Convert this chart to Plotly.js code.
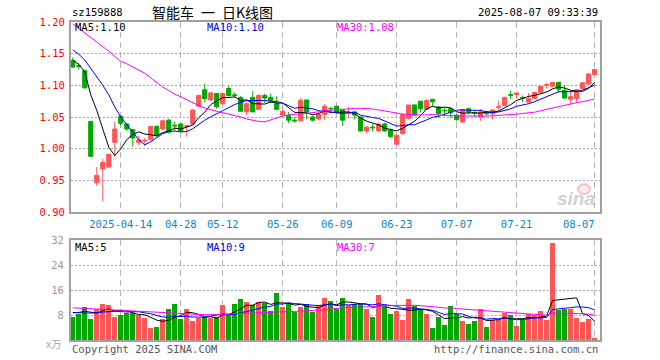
<!DOCTYPE html>
<html>
<head>
<meta charset="utf-8">
<script src="https://cdn.plot.ly/plotly-3.0.1.min.js"></script>
<style>html,body{margin:0;padding:0;background:#fff}#chart{width:660px;height:360px}</style>
</head>
<body>
<div id="chart"></div>
<script>
const dates = [
"2025-04-01","2025-04-02","2025-04-03","2025-04-07","2025-04-08","2025-04-09","2025-04-10","2025-04-11",
"2025-04-14","2025-04-15","2025-04-16","2025-04-17","2025-04-18","2025-04-21","2025-04-22","2025-04-23","2025-04-24","2025-04-25",
"2025-04-28","2025-04-29","2025-04-30","2025-05-06","2025-05-07","2025-05-08","2025-05-09",
"2025-05-12","2025-05-13","2025-05-14","2025-05-15","2025-05-16","2025-05-19","2025-05-20","2025-05-21","2025-05-22","2025-05-23",
"2025-05-26","2025-05-27","2025-05-28","2025-05-29","2025-05-30","2025-06-03","2025-06-04","2025-06-05","2025-06-06",
"2025-06-09","2025-06-10","2025-06-11","2025-06-12","2025-06-13","2025-06-16","2025-06-17","2025-06-18","2025-06-19","2025-06-20",
"2025-06-23","2025-06-24","2025-06-25","2025-06-26","2025-06-27","2025-06-30","2025-07-01","2025-07-02","2025-07-03","2025-07-04",
"2025-07-07","2025-07-08","2025-07-09","2025-07-10","2025-07-11","2025-07-14","2025-07-15","2025-07-16","2025-07-17","2025-07-18",
"2025-07-21","2025-07-22","2025-07-23","2025-07-24","2025-07-25","2025-07-28","2025-07-29","2025-07-30","2025-07-31","2025-08-01",
"2025-08-04","2025-08-05","2025-08-06","2025-08-07"];

const openP = [1.139,1.131,1.123,1.043,0.946,0.968,0.971,1.010,
1.051,1.039,1.030,1.010,1.012,1.014,1.035,1.031,1.045,1.037,
1.039,1.035,1.039,1.067,1.093,1.077,1.087,
1.071,1.095,1.085,1.081,1.058,1.081,1.062,1.084,1.081,1.071,
1.053,1.052,1.045,1.044,1.077,1.050,1.047,1.054,1.0635,
1.067,1.061,1.056,1.058,1.050,1.028,1.034,1.028,1.039,1.029,
1.007,1.024,1.048,1.069,1.075,1.062,1.078,1.066,1.0605,1.063,
1.053,1.042,1.063,1.057,1.050,1.058,1.055,1.065,1.068,1.085,
1.0855,1.0805,1.0735,1.079,1.089,1.1005,1.0985,1.1047,1.092,1.078,
1.079,1.095,1.102,1.117];
const highP = [1.144,1.135,1.125,1.044,0.971,0.984,0.992,1.043,
1.053,1.040,1.031,1.020,1.017,1.036,1.037,1.046,1.047,1.043,
1.040,1.038,1.062,1.085,1.103,1.089,1.088,
1.088,1.099,1.089,1.083,1.075,1.091,1.086,1.087,1.087,1.083,
1.066,1.058,1.050,1.080,1.077,1.052,1.057,1.071,1.066,
1.068,1.061,1.066,1.059,1.050,1.036,1.039,1.041,1.041,1.032,
1.023,1.055,1.069,1.070,1.075,1.078,1.078,1.067,1.065,1.065,
1.054,1.062,1.065,1.061,1.063,1.059,1.062,1.076,1.082,1.091,
1.089,1.084,1.088,1.089,1.099,1.104,1.105,1.105,1.0995,1.091,
1.094,1.104,1.119,1.126];
const lowP = [1.127,1.125,1.095,0.987,0.941,0.917,0.970,0.987,
1.036,1.028,1.003,1.005,1.004,1.013,1.019,1.029,1.024,1.028,
1.027,1.019,1.038,1.066,1.073,1.075,1.063,
1.069,1.082,1.080,1.058,1.053,1.058,1.061,1.072,1.072,1.061,
1.052,1.040,1.041,1.043,1.046,1.043,1.045,1.045,1.057,
1.058,1.036,1.048,1.046,1.027,1.024,1.027,1.026,1.027,1.017,
1.006,1.022,1.046,1.052,1.057,1.061,1.067,1.049,1.053,1.048,
1.044,1.041,1.054,1.050,1.044,1.052,1.046,1.059,1.067,1.078,
1.079,1.0735,1.0725,1.078,1.088,1.095,1.098,1.088,1.079,1.070,
1.0725,1.094,1.101,1.116];
const closeP = [1.129,1.130,1.096,0.988,0.958,0.978,0.991,1.031,
1.040,1.031,1.017,1.014,1.013,1.035,1.021,1.044,1.026,1.036,
1.028,1.036,1.061,1.084,1.079,1.088,1.066,
1.087,1.084,1.084,1.059,1.071,1.058,1.084,1.080,1.076,1.062,
1.059,1.045,1.044,1.076,1.058,1.045,1.054,1.067,1.063,
1.058,1.045,1.057,1.053,1.028,1.034,1.033,1.039,1.028,1.019,
1.021,1.054,1.069,1.053,1.063,1.076,1.074,1.055,1.060,1.057,
1.046,1.062,1.058,1.0565,1.058,1.055,1.061,1.066,1.081,1.0845,
1.088,1.080,1.079,1.089,1.0985,1.101,1.1047,1.094,1.080,1.082,
1.093,1.104,1.118,1.125];
const volume = [7.4,8.2,10.7,6.6,10.0,11.4,11.1,7.4,
7.9,8.75,8.75,7.9,7.05,3.9,4.2,6.8,9.8,11.4,
6.6,9.8,6.0,7.05,7.4,7.05,7.4,
11.1,7.9,11.4,13.0,12.3,11.1,12.3,12.0,9.2,15.1,
10.5,12.0,9.0,10.7,11.6,9.0,11.2,13.4,12.6,
10.0,13.6,11.2,11.6,11.6,9.8,7.4,14.5,10.7,8.4,
9.2,6.3,13.0,10.8,9.8,8.4,3.9,7.4,4.7,11.0,
8.4,6.0,5.0,6.0,9.8,4.2,6.3,6.3,8.75,8.1,
4.6,6.3,8.4,8.1,9.2,6.5,31.1,9.5,10.0,9.8,
7.05,5.75,6.6,0.7];

// moving-average values before the window is full
const ma5Head = [1.140,1.133,1.121,1.085];
const ma10Head = [1.156,1.149,1.140,1.127,1.114,1.100,1.085,1.066,1.050];
const ma30Head = [1.197,1.190,1.183,1.175,1.168,1.162,1.154,1.146,1.138,1.134,1.129,1.125,1.119,1.112,1.104,1.097,1.092,1.086,1.082,1.077,1.072,1.068,1.064,1.061,1.059,1.057,1.055,1.052,1.050];
const volMa5Head = [8.7,8.8,9.2,9.0];
const volMa10Head = [8.8,8.7,8.7,8.6,8.8,9.0,9.2,9.2,9.1];
const volMa30Head = [10.3,10.2,10.1,9.9,9.8,9.7,9.5,9.4,9.3,9.2,9.1,9.0,8.9,8.8,8.7,8.6,8.5,8.4,8.3,8.3,8.2,8.2,8.1,8.1,8.1,8.2,8.3,8.4,8.5];

const tickDates = ["2025-04-14","2025-04-28","2025-05-12","2025-05-26","2025-06-09","2025-06-23","2025-07-07","2025-07-21","2025-08-07"];
const tickLabels = ["2025-04-14","04-28","05-12","05-26","06-09","06-23","07-07","07-21","08-07\u00a0\u00a0\u00a0\u00a0\u00a0"];
const priceTicks = [0.90,0.95,1.00,1.05,1.10,1.15,1.20];
const volTicks = [8,16,24,32];

function movingAvg(arr, n, head){
  const out = [];
  for(let i=0;i<arr.length;i++){
    if(i < n-1){ out.push(head[i]); continue; }
    let s = 0; for(let k=i-n+1;k<=i;k++) s += arr[k];
    out.push(s/n);
  }
  return out;
}

const RED = '#ff5555', GREEN = '#00a800';
const volColors = closeP.map((c,i)=> c >= openP[i] ? RED : GREEN);
const mono = 'DejaVu Sans Mono';

const traces = [
  {type:'candlestick', x:dates, open:openP, high:highP, low:lowP, close:closeP,
   xaxis:'x', yaxis:'y', hoverinfo:'skip', whiskerwidth:0,
   increasing:{line:{color:RED,width:1}, fillcolor:RED},
   decreasing:{line:{color:GREEN,width:1}, fillcolor:GREEN}},
  {type:'scatter', mode:'lines', x:dates, y:movingAvg(closeP,5,ma5Head), xaxis:'x', yaxis:'y', line:{color:'#000000',width:1}, hoverinfo:'skip'},
  {type:'scatter', mode:'lines', x:dates, y:movingAvg(closeP,10,ma10Head), xaxis:'x', yaxis:'y', line:{color:'#0000ff',width:1}, hoverinfo:'skip'},
  {type:'scatter', mode:'lines', x:dates, y:movingAvg(closeP,30,ma30Head), xaxis:'x', yaxis:'y', line:{color:'#ff00ff',width:1}, hoverinfo:'skip'},
  {type:'bar', x:dates, y:volume, xaxis:'x2', yaxis:'y2', width:0.78, marker:{color:volColors, line:{width:0}}, hoverinfo:'skip'},
  {type:'scatter', mode:'lines', x:dates, y:movingAvg(volume,5,volMa5Head), xaxis:'x2', yaxis:'y2', line:{color:'#000000',width:1}, hoverinfo:'skip'},
  {type:'scatter', mode:'lines', x:dates, y:movingAvg(volume,10,volMa10Head), xaxis:'x2', yaxis:'y2', line:{color:'#0000ff',width:1}, hoverinfo:'skip'},
  {type:'scatter', mode:'lines', x:dates, y:movingAvg(volume,30,volMa30Head), xaxis:'x2', yaxis:'y2', line:{color:'#ff00ff',width:1}, hoverinfo:'skip'}
];

const W = 660, H = 360;
const px = v => v/W, py = v => 1 - v/H;
const xDom = [px(71), px(600)];
const frame = {showline:true, mirror:true, linecolor:'#a0a0a0', linewidth:2, zeroline:false};

function ann(text, x, y, anchor, color, size, family){
  return {text:text, x:px(x), y:py(y), xref:'paper', yref:'paper', xanchor:anchor, yanchor:'middle',
          showarrow:false, font:{family:family||mono, size:size||10.5, color:color||'#000'}};
}

const layout = {
  width:W, height:H, margin:{l:0,r:0,t:0,b:0},
  paper_bgcolor:'#ffffff', plot_bgcolor:'#ffffff', showlegend:false,
  boxgap:0.3, boxgroupgap:0, bargap:0,
  xaxis: Object.assign({domain:xDom, anchor:'y', type:'category', range:[-0.3,87.9],
    tickvals:tickDates, ticktext:tickLabels, tickfont:{family:mono,size:10.5,color:'#0a84d0'},
    ticks:'', ticklabelstandoff:1, showgrid:true, gridcolor:'#b4b4b4', griddash:'6px,4px', gridwidth:1,
    rangeslider:{visible:false}, fixedrange:true}, frame),
  yaxis: Object.assign({domain:[py(212), py(22)], anchor:'x', range:[0.90,1.20], tickvals:priceTicks, tickformat:'.2f',
    tickfont:{family:mono,size:10.5,color:'#ff0000'}, ticks:'', showgrid:true, gridcolor:'#a8a8a8', griddash:'2px,2px', gridwidth:1,
    ticklabelstandoff:2, fixedrange:true}, frame),
  xaxis2: Object.assign({domain:xDom, anchor:'y2', type:'category', range:[-0.3,87.9],
    tickvals:tickDates, showticklabels:false, ticks:'', showgrid:true, gridcolor:'#b4b4b4', griddash:'6px,4px', gridwidth:1, fixedrange:true}, frame),
  yaxis2: Object.assign({domain:[py(340), py(240)], anchor:'x2', range:[0,32], tickvals:volTicks,
    tickfont:{family:mono,size:10.5,color:'#999999'}, ticks:'', showgrid:true, gridcolor:'#a8a8a8', griddash:'2px,2px', gridwidth:1,
    ticklabelstandoff:3, fixedrange:true}, frame),
  annotations:[
    ann('sz159888', 70, 12, 'left'),
    ann('智能车\u2002一\u2002日K线图', 150, 12, 'left', '#000', 14, 'Noto Sans CJK SC'),
    ann('2025-08-07 09:33:39', 600, 12, 'right'),
    ann('MA5:1.10', 73, 27, 'left', '#000000'),
    ann('MA10:1.10', 205, 27, 'left', '#0000ff'),
    ann('MA30:1.08', 335, 27, 'left', '#ff00ff'),
    ann('MA5:5', 73, 247, 'left', '#000000'),
    ann('MA10:9', 205, 247, 'left', '#0000ff'),
    ann('MA30:7', 335, 247, 'left', '#ff00ff'),
    ann('x万', 64, 343, 'right', '#aaaaaa', 10.5, 'Noto Sans CJK SC'),
    ann('Copyright 2025 SINA.COM', 70, 349, 'left', '#555555'),
    ann('http://finance.sina.com.cn', 600, 349, 'right', '#555555'),
    {text:'<b><i>sina</i></b>', x:px(597), y:py(198), xref:'paper', yref:'paper', xanchor:'right', yanchor:'middle', showarrow:false,
     font:{family:'Liberation Sans', size:19, color:'rgba(170,170,170,0.55)'}}
  ],
  shapes:[
    {type:'circle', xref:'paper', yref:'paper', x0:px(578), x1:px(590), y0:py(194), y1:py(184), line:{color:'rgba(235,130,130,0.45)', width:2}, fillcolor:'rgba(240,170,170,0.25)'}
  ]
};

Plotly.newPlot('chart', traces, layout, {staticPlot:true, displayModeBar:false});
</script>
</body>
</html>
